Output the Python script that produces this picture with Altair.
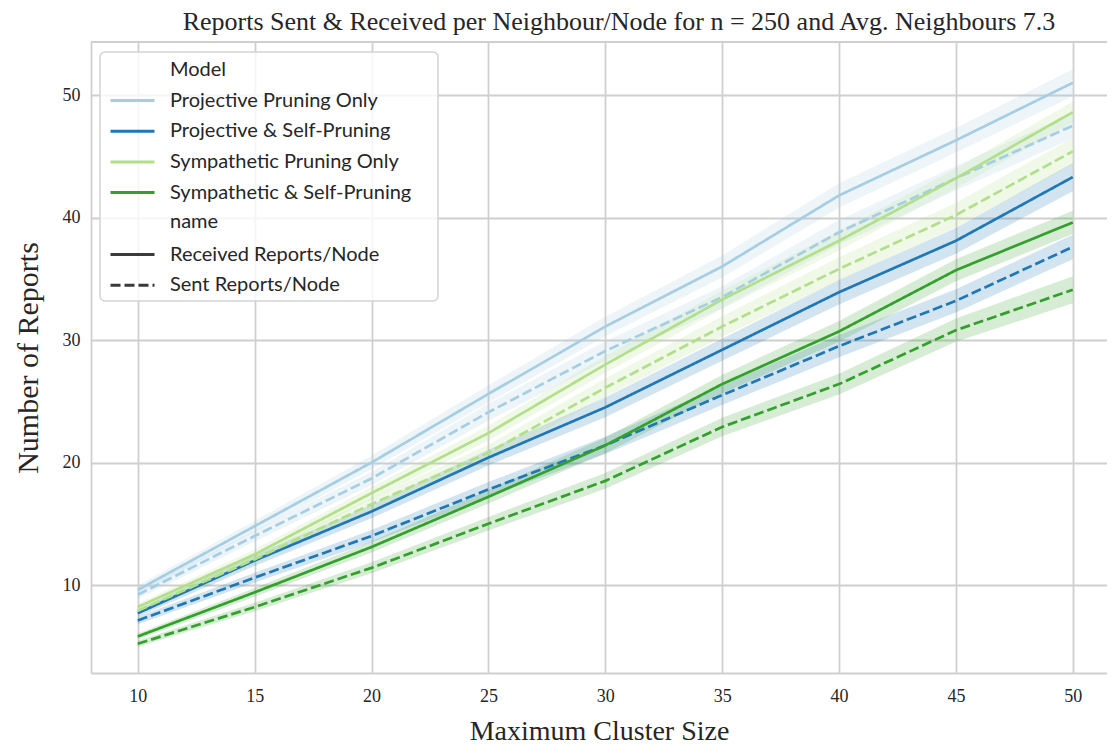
import altair as alt
import pandas as pd

# ---------------- data ----------------
cluster_size = [10, 15, 20, 25, 30, 35, 40, 45, 50]

models = ["Projective Pruning Only", "Projective & Self-Pruning",
          "Sympathetic Pruning Only", "Sympathetic & Self-Pruning"]
names = ["Received Reports/Node", "Sent Reports/Node"]
palette = ["#a6cee3", "#1f78b4", "#b2df8a", "#33a02c"]

ppo_recv = [9.6, 14.8, 20.0, 25.6, 31.1, 36.0, 41.8, 46.3, 51.0]
ppo_sent = [9.2, 14.0, 18.7, 24.1, 29.1, 33.5, 38.8, 43.2, 47.5]
psp_recv = [7.7, 12.0, 16.0, 20.4, 24.5, 29.2, 33.9, 38.1, 43.3]
psp_sent = [7.1, 10.6, 14.0, 17.8, 21.4, 25.5, 29.5, 33.2, 37.6]
spo_recv = [8.2, 12.5, 17.5, 22.4, 28.0, 33.3, 38.1, 43.2, 48.6]
spo_sent = [7.9, 12.1, 16.6, 20.8, 26.1, 31.1, 35.8, 40.2, 45.4]
ssp_recv = [5.8, 9.4, 13.1, 17.2, 21.4, 26.4, 30.7, 35.7, 39.6]
ssp_sent = [5.2, 8.2, 11.4, 15.0, 18.5, 22.9, 26.4, 30.8, 34.1]

# half-width of the confidence bands
ppo_recv_ci = [0.35, 0.45, 0.55, 0.70, 0.80, 0.90, 1.00, 1.00, 1.10]
ppo_sent_ci = [0.35, 0.45, 0.55, 0.70, 0.80, 0.90, 1.00, 1.00, 1.05]
psp_recv_ci = [0.30, 0.45, 0.55, 0.65, 0.80, 0.90, 1.00, 1.05, 1.15]
psp_sent_ci = [0.30, 0.40, 0.50, 0.60, 0.70, 0.80, 0.90, 0.95, 1.00]
spo_recv_ci = [0.30, 0.40, 0.50, 0.60, 0.70, 0.75, 0.80, 0.80, 0.85]
spo_sent_ci = [0.30, 0.40, 0.50, 0.65, 0.75, 0.85, 0.95, 1.00, 1.10]
ssp_recv_ci = [0.25, 0.35, 0.45, 0.55, 0.65, 0.75, 0.85, 0.90, 0.95]
ssp_sent_ci = [0.25, 0.35, 0.45, 0.55, 0.65, 0.75, 0.85, 0.95, 1.10]

series = [
    (models[0], names[0], ppo_recv, ppo_recv_ci),
    (models[0], names[1], ppo_sent, ppo_sent_ci),
    (models[1], names[0], psp_recv, psp_recv_ci),
    (models[1], names[1], psp_sent, psp_sent_ci),
    (models[2], names[0], spo_recv, spo_recv_ci),
    (models[2], names[1], spo_sent, spo_sent_ci),
    (models[3], names[0], ssp_recv, ssp_recv_ci),
    (models[3], names[1], ssp_sent, ssp_sent_ci),
]

rows = []
for model, name, vals, ci in series:
    for xv, yv, c in zip(cluster_size, vals, ci):
        rows.append({"size": xv, "reports": yv, "lo": yv - c, "hi": yv + c,
                     "Model": model, "name": name})
df = pd.DataFrame(rows)

# ---------------- layout ----------------
W, H = 1016, 631
SERIF = "Liberation Serif"
SANS = "Lato"
TXT = "#262626"
GRID = "#cfcfcf"

x_scale = alt.Scale(domain=[8, 51.465], nice=False, zero=False)
y_scale = alt.Scale(domain=[2.816, 54.33], nice=False, zero=False)

x_axis = alt.Axis(values=cluster_size, title="Maximum Cluster Size", ticks=False,
                  labelPadding=14, titlePadding=12, labelFlush=False,
                  titleFontSize=28)
y_axis = alt.Axis(values=[10, 20, 30, 40, 50], title="Number of Reports", ticks=False,
                  labelPadding=11, titlePadding=19, titleFontSize=30)

base = alt.Chart(df)

# confidence bands: one layer per model, fixed fill (no extra scale)
band_layers = []
for i, m in enumerate(models):
    band_layers.append(
        base.transform_filter(alt.datum.Model == m).mark_area(
            color=palette[i], opacity=0.2, interpolate="linear").encode(
            x=alt.X("size:Q", scale=x_scale, axis=x_axis),
            y=alt.Y("lo:Q", scale=y_scale, axis=y_axis),
            y2="hi:Q",
            detail="name:N",
        )
    )

legend_common = dict(title=None, orient="none", legendX=30,
                     symbolType="M-2.2,0H2.2", symbolSize=400,
                     symbolStrokeWidth=3, labelOffset=26,
                     rowPadding=8.7, padding=0, labelLimit=500)

lines = base.mark_line(strokeWidth=2.7).encode(
    x=alt.X("size:Q", scale=x_scale, axis=x_axis),
    y=alt.Y("reports:Q", scale=y_scale, axis=y_axis),
    color=alt.Color("Model:N", scale=alt.Scale(domain=models, range=palette),
                    legend=alt.Legend(legendY=47, **legend_common)),
    strokeDash=alt.StrokeDash("name:N",
                              scale=alt.Scale(domain=names, range=[[1, 0], [10, 4]]),
                              legend=alt.Legend(legendY=201,
                                                symbolStrokeColor="#3a3a3a",
                                                **legend_common)),
)

one = alt.Data(values=[{"a": 1}])

box = alt.Chart(one).mark_rect(fill="white", fillOpacity=0.8, stroke="#d3d3d3",
                               strokeWidth=1.5, cornerRadius=5).encode(
    x=alt.value(9), x2=alt.value(347), y=alt.value(10), y2=alt.value(259))

top_border = alt.Chart(one).mark_rule(color=GRID, strokeWidth=1.8).encode(
    x=alt.value(0), x2=alt.value(W), y=alt.value(0))

title_model = alt.Chart(alt.Data(values=[{"t": "Model"}])).mark_text(
    font=SANS, fontSize=20, color=TXT, align="left", baseline="middle").encode(
    x=alt.value(79), y=alt.value(28), text="t:N")

title_name = alt.Chart(alt.Data(values=[{"t": "name"}])).mark_text(
    font=SANS, fontSize=20, color=TXT, align="left", baseline="middle").encode(
    x=alt.value(79), y=alt.value(180), text="t:N")

chart = alt.layer(top_border, *band_layers, lines, box, title_model, title_name).properties(
    width=W, height=H,
    autosize=alt.AutoSizeParams(type="none"),
    padding={"left": 83, "top": 34, "right": 0, "bottom": 73},
    title=alt.TitleParams(
        "Reports Sent & Received per Neighbour/Node for n = 250 and Avg. Neighbours 7.3",
        font=SERIF, fontSize=26, fontWeight="normal", color=TXT,
        anchor="middle", dx=20, offset=6),
).configure_view(stroke=None).configure_axis(
    grid=True, gridColor=GRID, gridWidth=1.8,
    domainColor=GRID, domainWidth=1.8,
    labelFont=SERIF, labelFontSize=18, labelColor=TXT,
    titleFont=SERIF, titleFontWeight="normal", titleColor=TXT,
).configure_legend(
    labelFont=SANS, labelFontSize=20, labelColor=TXT,
)

chart.save("out.html", embed_options={"renderer": "svg", "actions": False})
